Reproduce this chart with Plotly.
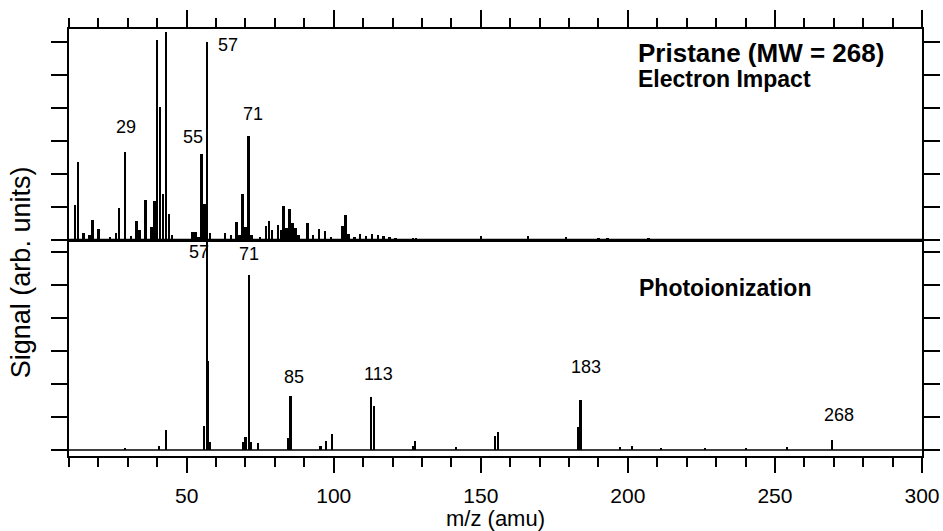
import plotly.graph_objects as go

# ---------------- data ----------------
# Electron impact spectrum: m/z and signal (arb. units, 1 unit = 1 y tick)
ei_mz = [12, 13, 15, 17, 18, 20, 24, 26, 27, 29, 31, 33, 34, 36, 38, 39, 40, 41,
         42, 43, 44, 45, 52, 53, 54, 55, 56, 57, 58, 63, 65, 67, 68, 69, 70, 71,
         72, 75, 77, 78, 79, 81, 82, 83, 84, 85, 86, 87, 88, 91, 93, 95, 97, 99,
         103, 104, 105, 107, 109, 111, 113, 115, 117, 119, 121, 127, 128, 150,
         166, 179, 190, 193, 207]
ei_int = [1.06, 2.37, 0.22, 0.14, 0.60, 0.32, 0.10, 0.20, 0.98, 2.66, 0.12, 0.58,
          0.30, 1.22, 0.38, 1.19, 6.07, 4.03, 1.40, 6.30, 0.80, 0.15, 0.23, 0.23,
          0.10, 2.60, 1.09, 5.99, 0.20, 0.20, 0.15, 0.54, 0.15, 1.38, 0.40, 3.16,
          0.15, 0.10, 0.43, 0.58, 0.30, 0.45, 0.30, 1.03, 0.35, 0.93, 0.52, 0.35,
          0.15, 0.52, 0.15, 0.33, 0.28, 0.10, 0.42, 0.76, 0.18, 0.10, 0.18, 0.13,
          0.17, 0.15, 0.13, 0.09, 0.06, 0.06, 0.06, 0.11, 0.13, 0.08, 0.07, 0.06,
          0.05]

# Photoionization spectrum
pi_mz = [29.0, 40.7, 42.9, 55.8, 57.0, 57.4, 58.0, 69.0, 70.0, 71.1, 72.0, 74.3,
         84.4, 85.3, 95.5, 97.4, 99.3, 112.6, 113.6, 127.0, 127.7, 141.6, 154.7,
         155.8, 183.0, 183.9, 197.2, 201.4, 211.4, 226.1, 240.3, 254.2, 269.5]
pi_int = [0.05, 0.12, 0.60, 0.73, 6.30, 2.70, 0.25, 0.25, 0.40, 5.30, 0.25, 0.20,
          0.35, 1.64, 0.12, 0.28, 0.50, 1.62, 1.33, 0.12, 0.27, 0.10, 0.42, 0.56,
          0.71, 1.52, 0.08, 0.13, 0.05, 0.07, 0.05, 0.08, 0.30]

ei_label_text = ["29", "55", "57", "71"]
pi_label_text = ["57", "71", "85", "113", "183", "268"]
x_tick_step = 50
x_minor_step = 10
y_tickvals = [0, 1, 2, 3, 4, 5, 6]

# ---------------- layout / styling ----------------
FONT = "Liberation Sans, Arial, Helvetica, sans-serif"
W, H = 943, 531
L, R, T, B = 69, 21, 29, 75
plot_h = H - T - B            # 427
px_per_unit = 33.0
split_px = 240                # separation between the two panels
split = (H - B - split_px) / plot_h

ei_label_pos = [(29.4, 3.43), (52.1, 3.13), (64.0, 5.90), (72.5, 3.82)]
pi_label_pos = [(54.3, 6.01), (71.3, 5.94), (86.6, 2.22), (115.2, 2.30),
                (185.6, 2.52), (271.8, 1.06)]

fig = go.Figure()
fig.add_trace(go.Bar(x=ei_mz, y=ei_int, width=0.85, xaxis="x2", yaxis="y2",
                     marker=dict(color="black", line=dict(width=0))))
fig.add_trace(go.Bar(x=pi_mz, y=pi_int, width=0.7, xaxis="x", yaxis="y",
                     marker=dict(color="black", line=dict(width=0))))

axis_common = dict(showline=True, linecolor="black", linewidth=2, showgrid=False,
                   zeroline=False, tickcolor="black", tickwidth=2, automargin=False)

fig.update_layout(
    width=W, height=H, margin=dict(l=L, r=R, t=T, b=B, autoexpand=False),
    paper_bgcolor="white", plot_bgcolor="white", showlegend=False,
    bargap=0,
    font=dict(family=FONT, color="black"),
    xaxis=dict(domain=[0, 1], range=[10, 300], anchor="y", side="bottom",
               ticks="outside", ticklen=15, tick0=0, dtick=x_tick_step,
               minor=dict(dtick=x_minor_step, tick0=0, ticks="outside", ticklen=9,
                          tickwidth=2, tickcolor="black"),
               tickfont=dict(size=21, family=FONT, color="black"),
               ticklabelstandoff=5, **axis_common),
    xaxis2=dict(domain=[0, 1], range=[10, 300], anchor="y2", side="top",
                mirror=True, ticks="outside", ticklen=17, tick0=0, dtick=x_tick_step,
                minor=dict(dtick=x_minor_step, tick0=0, ticks="outside", ticklen=9,
                           tickwidth=2, tickcolor="black"),
                showticklabels=False, **axis_common),
    yaxis=dict(domain=[0, split], range=[-6 / px_per_unit, 210 / px_per_unit],
               tickvals=y_tickvals, ticks="outside", ticklen=16, mirror="ticks",
               showticklabels=False, **axis_common),
    yaxis2=dict(domain=[split, 1], range=[0, 211 / px_per_unit],
                tickvals=y_tickvals, ticks="outside", ticklen=16, mirror="ticks",
                showticklabels=False, **axis_common),
)

# baselines
fig.add_shape(type="line", xref="x2 domain", yref="y2", x0=0, x1=1, y0=0, y1=0,
              line=dict(color="black", width=2.5))
fig.add_shape(type="line", xref="x domain", yref="y", x0=0, x1=1, y0=0, y1=0,
              line=dict(color="black", width=1.5))

# peak labels
for txt, (x, y) in zip(ei_label_text, ei_label_pos):
    fig.add_annotation(x=x, y=y, xref="x2", yref="y2", text=txt, showarrow=False,
                       font=dict(size=18, family=FONT, color="black"))
for txt, (x, y) in zip(pi_label_text, pi_label_pos):
    fig.add_annotation(x=x, y=y, xref="x", yref="y", text=txt, showarrow=False,
                       font=dict(size=18, family=FONT, color="black"))

# panel titles
fig.add_annotation(x=0.666, y=0.944, xref="paper", yref="paper", xanchor="left",
                   yanchor="middle", text="<b>Pristane (MW = 268)</b>", showarrow=False,
                   borderpad=0, font=dict(size=26, family=FONT, color="black"))
fig.add_annotation(x=0.666, y=0.882, xref="paper", yref="paper", xanchor="left",
                   yanchor="middle", text="<b>Electron Impact</b>", showarrow=False,
                   borderpad=0, font=dict(size=23, family=FONT, color="black"))
fig.add_annotation(x=0.666, y=0.3927, xref="paper", yref="paper", xanchor="left",
                   yanchor="middle", text="<b>Photoionization</b>", showarrow=False,
                   font=dict(size=23, family=FONT, color="black"))

# axis titles
fig.add_annotation(x=0.5, y=-0.1452, xref="paper", yref="paper", xanchor="center",
                   yanchor="middle", text="m/z (amu)", showarrow=False,
                   borderpad=0, font=dict(size=22, family=FONT, color="black"))
fig.add_annotation(x=-0.056, y=0.431, xref="paper", yref="paper", xanchor="center",
                   yanchor="middle", text="Signal (arb. units)", showarrow=False,
                   textangle=-90, font=dict(size=27, family=FONT, color="black"))

fig.write_html("out.html")
